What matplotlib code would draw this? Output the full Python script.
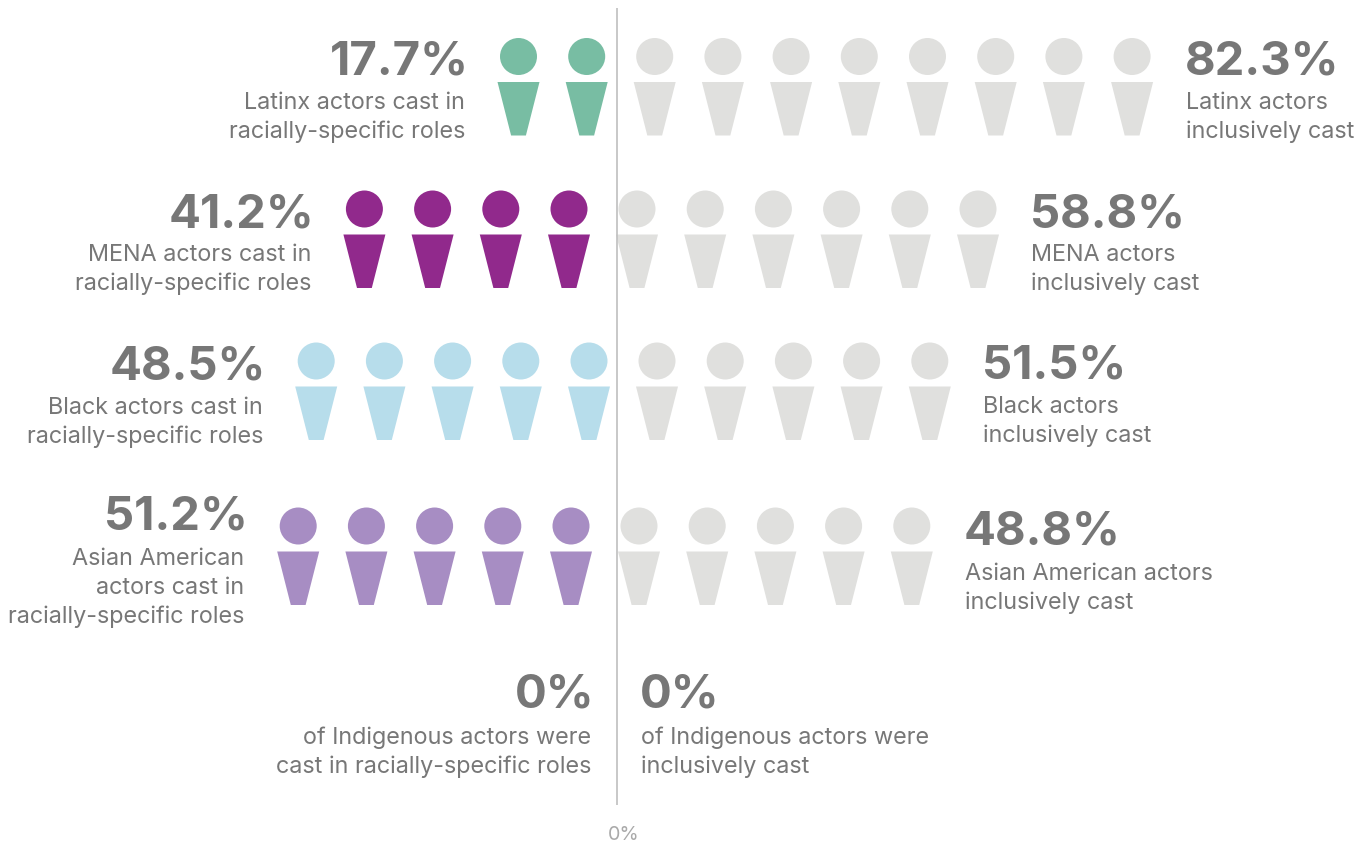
import matplotlib
matplotlib.use("Agg")
import matplotlib.pyplot as plt
from matplotlib.patches import Circle, Polygon

plt.rcParams['font.family'] = ['Inter', 'DejaVu Sans']

# valores
left_pct = ["17.7%", "41.2%", "48.5%", "51.2%", "0%"]
right_pct = ["82.3%", "58.8%", "51.5%", "48.8%", "0%"]
left_labels = [
    "Latinx actors cast in\nracially-specific roles",
    "MENA actors cast in\nracially-specific roles",
    "Black actors cast in\nracially-specific roles",
    "Asian American\nactors cast in\nracially-specific roles",
    "of Indigenous actors were\ncast in racially-specific roles",
]
right_labels = [
    "Latinx actors\ninclusively cast",
    "MENA actors\ninclusively cast",
    "Black actors\ninclusively cast",
    "Asian American actors\ninclusively cast",
    "of Indigenous actors were\ninclusively cast",
]
left_people = [2, 4, 5, 5, 0]
right_people = [8, 6, 5, 5, 0]
left_colors = ["#78BDA3", "#91298C", "#B7DDEB", "#A78DC3", "#FFFFFF"]
axis_label = "0%"

# layout em pixels
GREY = "#E0E0DE"
TEXT = "#777777"
STEP = 68.2
last_left = [586.7, 569, 589, 571]
first_right = [654.7, 637, 657, 639]
head_y = [56.5, 209, 361, 526]
left_text_x = [465, 311, 263, 244, 591]
right_text_x = [1186, 1031, 983, 965, 641]
left_base = [76, 229, 381, 531, 709]
right_base = [76, 229, 380, 546, 709]
left_line1 = [109, 261, 414, 565, 744]
right_line1 = [109, 261, 413, 580, 744]
LINE_H = 29

fig = plt.figure(figsize=(13.7, 8.42), dpi=100)
ax = fig.add_axes([0, 0, 1, 1])
ax.set_xlim(0, 1370)
ax.set_ylim(842, 0)
ax.axis("off")


def person(cx, cy, color):
    ax.add_patch(Circle((cx, cy), 18.5, fc=color, ec="none"))
    top = cy + 25.5
    bottom = cy + 79
    ax.add_patch(Polygon([(cx - 21, top), (cx + 21, top), (cx + 7.4, bottom), (cx - 7.4, bottom)],
                         closed=True, fc=color, ec="none"))


def block(x, base, line1, pct, label, ha):
    # o numero grande tem folga lateral, compensa para alinhar com o rotulo
    nudge = 3.5 if ha == "right" else -1
    ax.text(x + nudge, base - 1.5, pct, ha=ha, va="baseline", fontsize=34, fontweight="bold", color=TEXT)
    for i, line in enumerate(label.split("\n")):
        ax.text(x, line1 + i * LINE_H, line, ha=ha, va="baseline", fontsize=16.85, color=TEXT)


for r in range(4):
    for i in range(left_people[r]):
        person(last_left[r] - i * STEP, head_y[r], left_colors[r])
    for i in range(right_people[r]):
        person(first_right[r] + i * STEP, head_y[r], GREY)

for r in range(5):
    block(left_text_x[r], left_base[r], left_line1[r], left_pct[r], left_labels[r], "right")
    block(right_text_x[r], right_base[r], right_line1[r], right_pct[r], right_labels[r], "left")

ax.plot([617, 617], [8, 805], color="#BFBFBF", lw=1.2, solid_capstyle="butt")
ax.text(623.5, 840, axis_label, ha="center", va="baseline", fontsize=14.2, color="#AAAAAA")

fig.savefig("out.png", dpi=100)
